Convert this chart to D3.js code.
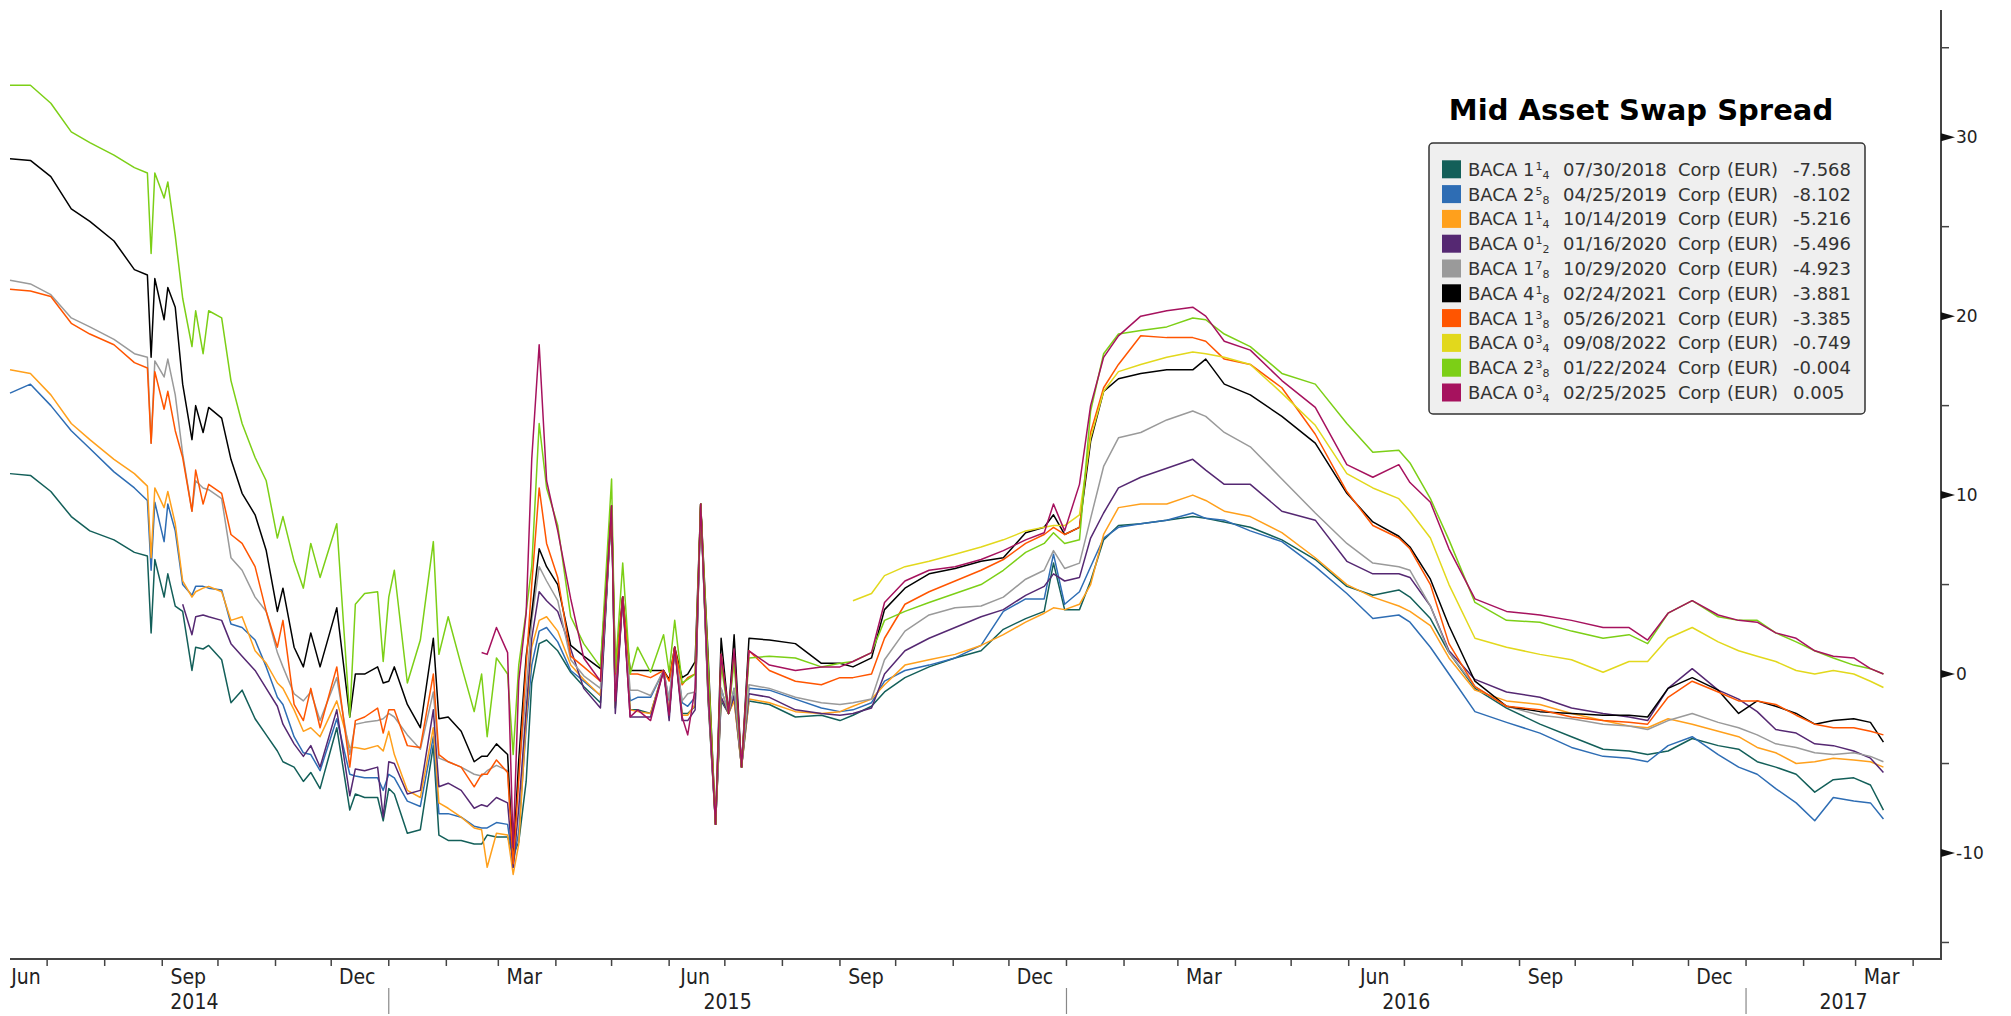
<!DOCTYPE html>
<meta charset="utf-8">
<style>
html, body {
  margin: 0;
  background: #fff;
}

.chart {
  display: block;
}

.chart .series {
  fill: none;
  stroke-width: 1.5;
  stroke-linejoin: round;
}

.chart .axis-line {
  stroke: #444;
  stroke-width: 2;
}

.chart .tick-line {
  stroke: #444;
  stroke-width: 1.5;
}

.chart .y-label {
  font-family: "DejaVu Sans", sans-serif;
  font-size: 17px;
  fill: #222;
}

.chart .month-label,
.chart .year-label {
  font-family: "Liberation Sans Narrow", "DejaVu Sans Condensed", sans-serif;
  font-size: 21px;
  fill: #222;
}

.chart text.chart-title {
  font-family: "DejaVu Sans", sans-serif;
  font-weight: bold;
  font-size: 29px;
  fill: #000;
}

.chart .legend text {
  font-family: "DejaVu Sans", sans-serif;
  font-size: 18px;
  fill: #333;
}
</style>
<body>

<svg class="chart js-chart" width="2011" height="1016"></svg>

<script src="https://d3js.org/d3.v7.min.js"></script>
<script type="text/javascript">
"use strict";

/* global d3 */

// observation dates shared by every bond
var dates = [
  "2014-06-11", "2014-06-22", "2014-07-03", "2014-07-14", "2014-07-24", "2014-08-06", "2014-08-17", "2014-08-24", "2014-08-26", "2014-08-28",
  "2014-09-02", "2014-09-04", "2014-09-08", "2014-09-12", "2014-09-17", "2014-09-19", "2014-09-23", "2014-09-26", "2014-10-03", "2014-10-08",
  "2014-10-14", "2014-10-21", "2014-10-27", "2014-11-02", "2014-11-05", "2014-11-11", "2014-11-16", "2014-11-20", "2014-11-25", "2014-12-04",
  "2014-12-11", "2014-12-14", "2014-12-19", "2014-12-26", "2014-12-29", "2015-01-01", "2015-01-04", "2015-01-11", "2015-01-18", "2015-01-25",
  "2015-01-28", "2015-02-02", "2015-02-09", "2015-02-16", "2015-02-20", "2015-02-23", "2015-02-28", "2015-03-06", "2015-03-09", "2015-03-12",
  "2015-03-16", "2015-03-19", "2015-03-23", "2015-03-27", "2015-04-02", "2015-04-09", "2015-04-16", "2015-04-25", "2015-05-01", "2015-05-03",
  "2015-05-07", "2015-05-11", "2015-05-15", "2015-05-22", "2015-05-29", "2015-06-01", "2015-06-04", "2015-06-08", "2015-06-11", "2015-06-15",
  "2015-06-18", "2015-06-22", "2015-06-26", "2015-06-29", "2015-07-03", "2015-07-06", "2015-07-10", "2015-07-14", "2015-07-25", "2015-08-08",
  "2015-08-22", "2015-09-01", "2015-09-08", "2015-09-18", "2015-09-25", "2015-10-06", "2015-10-19", "2015-11-02", "2015-11-16", "2015-11-28",
  "2015-12-10", "2015-12-20", "2015-12-25", "2015-12-31", "2016-01-08", "2016-01-14", "2016-01-21", "2016-01-29", "2016-02-10", "2016-02-24",
  "2016-03-09", "2016-03-16", "2016-03-26", "2016-04-09", "2016-04-26", "2016-05-14", "2016-05-31", "2016-06-14", "2016-06-28", "2016-07-04",
  "2016-07-15", "2016-07-25", "2016-08-08", "2016-08-25", "2016-09-12", "2016-09-29", "2016-10-16", "2016-10-30", "2016-11-09", "2016-11-20",
  "2016-12-03", "2016-12-17", "2016-12-28", "2017-01-07", "2017-01-17", "2017-01-28", "2017-02-07", "2017-02-17", "2017-02-28", "2017-03-09",
  "2017-03-16"
];

var baca2018 = [
  11.2, 11.1, 10.2, 8.8, 8.0, 7.5, 6.8, 6.6, 2.3, 6.4,
  4.3, 5.6, 3.8, 3.5, 0.2, 1.5, 1.4, 1.6, 0.8, -1.6,
  -0.9, -2.5, -3.4, -4.3, -4.9, -5.2, -6.0, -5.5, -6.4, -3.0,
  -7.6, -6.7, -6.9, -6.9, -8.2, -6.4, -6.7, -8.9, -8.7, -4.0,
  -9.0, -9.3, -9.3, -9.5, -9.5, -9.0, -9.1, -9.1, -10.1, -9.4,
  -6.0, -0.5, 1.7, 1.9, 1.3, 0.1, -0.7, -1.6, 9.4, -1.9,
  4.3, -2.0, -2.0, -2.2, 0.2, -2.3, 1.5, -2.2, -2.2, -1.8,
  9.5, -1.5, -8.4, -1.5, -2.2, -1.4, -5.2, -1.5, -1.7, -2.4,
  -2.3, -2.6, -2.3, -1.8, -1.0, -0.2, 0.4, 0.9, 1.3, 2.5,
  3.1, 3.5, 6.2, 3.6, 3.6, 5.2, 7.5, 8.3, 8.4, 8.6,
  8.8, 8.7, 8.5, 8.2, 7.5, 6.4, 4.9, 4.4, 4.7, 4.3,
  3.1, 1.2, -0.8, -1.9, -2.8, -3.5, -4.2, -4.3, -4.5, -4.3,
  -3.6, -4.0, -4.2, -4.9, -5.2, -5.6, -6.6, -5.9, -5.8, -6.2,
  -7.6
];

var baca2019a = [
  15.7, 16.2, 15.0, 13.6, 12.6, 11.3, 10.4, 9.7, 5.8, 9.6,
  7.4, 9.5, 8.0, 5.0, 4.4, 4.9, 4.9, 4.8, 4.7, 2.8,
  2.6, 1.9, 0.4, -1.3, -1.7, -3.5, -4.4, -4.5, -5.4, -2.5,
  -5.6, -5.7, -5.8, -5.8, -6.5, -5.6, -5.8, -7.1, -7.4, -3.5,
  -7.8, -7.8, -8.0, -8.5, -8.6, -8.6, -8.3, -8.4, -10.6, -8.8,
  -3.0, 0.5, 2.4, 2.6, 1.8, 0.2, -0.4, -1.2, 9.4, -1.5,
  4.3, -1.5, -1.3, -1.3, 0.2, -1.5, 1.5, -1.6, -1.8, -1.3,
  9.5, -0.9, -8.4, -0.8, -2.2, -0.8, -5.2, -0.8, -0.9, -1.4,
  -1.9, -2.1, -2.0, -1.6, -0.4, 0.2, 0.5, 0.9, 1.6, 3.5,
  4.2, 4.2, 6.7, 3.9, 4.6, 6.0, 7.6, 8.2, 8.4, 8.6,
  9.0, 8.7, 8.6, 8.0, 7.4, 6.0, 4.5, 3.1, 3.3, 2.9,
  1.5, 0.0, -2.1, -2.7, -3.3, -4.1, -4.6, -4.7, -4.9, -4.0,
  -3.5, -4.5, -5.2, -5.6, -6.4, -7.2, -8.2, -6.9, -7.1, -7.2,
  -8.1
];

var baca2019b = [
  17.0, 16.8, 15.6, 14.0, 13.1, 12.0, 11.2, 10.5, 6.5, 10.4,
  9.3, 10.2, 8.4, 5.2, 4.3, 4.6, 4.8, 4.9, 4.6, 3.0,
  3.2, 1.3, 0.6, -0.5, -0.8, -2.0, -3.2, -3.0, -3.5, -1.5,
  -4.1, -4.1, -4.2, -4.0, -4.3, -3.2, -4.5, -6.5, -6.9, -3.0,
  -7.2, -7.5, -8.0, -8.6, -8.7, -10.8, -8.9, -9.0, -11.2, -9.5,
  -2.5, 1.5, 3.0, 3.2, 2.4, 0.5, -0.3, -1.2, 9.4, -1.8,
  4.3, -2.0, -2.1, -2.2, 0.2, -2.2, 1.5, -2.3, -2.3, -1.7,
  9.5, -1.3, -8.4, -1.3, -2.2, -1.5, -5.2, -1.4, -1.6, -2.1,
  -2.2, -2.1, -1.8, -1.4, -0.6, 0.5, 0.8, 1.1, 1.6, 2.2,
  2.9, 3.4, 3.7, 3.6, 3.9, 5.0, 7.8, 9.3, 9.5, 9.5,
  10.0, 9.7, 9.1, 8.8, 7.9, 6.5, 5.0, 4.3, 3.8, 3.5,
  2.7, 0.9, -0.9, -1.5, -1.7, -2.2, -2.6, -2.9, -3.0, -2.5,
  -2.8, -3.2, -3.5, -4.1, -4.4, -5.0, -4.9, -4.7, -4.8, -4.9,
  -5.2
];

var baca2020a = [
  null, null, null, null, null, null, null, null, null, null,
  null, null, null, 3.9, 2.2, 3.2, 3.3, 3.2, 3.0, 1.7,
  1.0, 0.2, -0.8, -1.8, -2.8, -3.9, -4.6, -4.0, -5.2, -2.0,
  -6.8, -5.3, -5.4, -5.2, -8.0, -4.9, -5.0, -6.7, -6.5, -2.0,
  -6.3, -6.1, -6.5, -7.5, -7.3, -7.4, -6.9, -7.2, -10.8, -7.5,
  -2.0, 2.0, 4.6, 4.1, 3.5, 1.4, -0.8, -1.9, 9.4, -2.2,
  4.3, -2.4, -2.4, -2.4, 0.2, -2.6, 1.5, -2.6, -2.6, -2.0,
  9.5, -1.3, -8.4, -1.3, -2.2, -1.2, -5.2, -1.1, -1.3, -2.0,
  -2.2, -2.3, -2.2, -1.9, 0.0, 1.3, 2.0, 2.6, 3.2, 3.6,
  4.4, 4.9, 5.6, 5.2, 5.4, 7.6, 9.0, 10.4, 11.0, 11.5,
  12.0, 11.4, 10.6, 10.6, 9.1, 8.6, 6.3, 5.6, 5.6, 5.4,
  3.8, 1.3, -0.3, -1.0, -1.3, -1.9, -2.2, -2.4, -2.6, -0.8,
  0.3, -0.9, -1.4, -2.1, -3.1, -3.3, -3.9, -4.0, -4.3, -4.7,
  -5.5
];

var baca2020b = [
  22.0, 21.8, 21.2, 19.9, 19.4, 18.7, 17.9, 17.7, 12.9, 17.5,
  16.6, 17.6, 15.6, 12.3, 9.1, 10.8, 10.4, 10.3, 9.8, 6.5,
  5.8, 4.3, 3.5, 1.2, 0.4, -1.1, -1.5, -1.0, -2.6, -0.2,
  -4.5, -2.8, -2.7, -2.6, -2.5, -2.2, -2.4, -3.4, -4.2, -1.0,
  -4.7, -4.9, -5.2, -5.6, -5.7, -5.4, -5.1, -5.4, -10.4, -5.6,
  -1.0, 3.0, 6.0, 5.2, 4.1, 0.8, -0.1, -0.8, 9.4, -0.8,
  4.3, -0.9, -0.9, -1.2, 0.2, -1.4, 1.5, -1.5, -1.1, -1.0,
  9.5, -0.9, -8.4, -0.8, -2.2, -0.8, -5.2, -0.6, -0.8, -1.3,
  -1.6, -1.7, -1.6, -1.4, 0.8, 2.4, 3.3, 3.7, 3.8, 4.3,
  5.3, 5.8, 6.9, 5.9, 6.2, 8.7, 11.6, 13.2, 13.5, 14.2,
  14.7, 14.4, 13.5, 12.7, 10.9, 9.0, 7.3, 6.2, 6.0, 5.8,
  3.8, 1.2, -0.7, -1.8, -2.3, -2.5, -2.8, -2.9, -3.1, -2.6,
  -2.2, -2.7, -3.0, -3.4, -3.9, -4.1, -4.4, -4.5, -4.4, -4.6,
  -4.9
];

var baca2021a = [
  28.8, 28.7, 27.8, 26.0, 25.3, 24.2, 22.6, 22.3, 17.7, 22.1,
  19.8, 21.6, 20.5, 16.2, 13.1, 15.0, 13.5, 14.9, 14.3, 12.0,
  10.1, 8.9, 6.9, 3.5, 4.8, 1.5, 0.4, 2.3, 0.4, 3.7,
  -2.4, 0.0, 0.0, 0.4, -0.5, -0.4, 0.4, -1.7, -3.0, 2.0,
  -2.5, -2.4, -3.2, -4.9, -4.6, -4.6, -3.9, -4.5, -10.4, -4.8,
  1.0, 3.4, 7.0, 6.0, 5.0, 1.6, 1.0, 0.3, 9.4, 0.2,
  4.3, 0.2, 0.2, 0.2, 0.2, -0.3, 1.5, -0.2, 0.0, 0.7,
  9.5, 1.0, -8.4, 2.0, -2.2, 2.2, -5.2, 2.0, 1.9, 1.7,
  0.6, 0.6, 0.4, 0.9, 3.6, 4.8, 5.6, 5.9, 6.3, 6.5,
  7.9, 8.2, 8.9, 7.8, 8.2, 13.0, 15.8, 16.5, 16.8, 17.0,
  17.0, 17.6, 16.2, 15.6, 14.4, 12.9, 10.1, 8.5, 7.7, 7.1,
  5.3, 2.7, -0.4, -1.8, -2.1, -2.2, -2.3, -2.3, -2.4, -0.8,
  -0.2, -0.9, -2.2, -1.5, -1.8, -2.2, -2.8, -2.6, -2.5, -2.7,
  -3.8
];

var baca2021b = [
  21.5, 21.4, 21.1, 19.6, 19.0, 18.4, 17.4, 17.1, 12.9, 16.9,
  14.8, 15.8, 13.6, 12.1, 9.1, 11.4, 9.5, 10.6, 10.1, 7.8,
  7.3, 6.0, 3.5, 1.5, 3.0, -1.7, -2.6, -0.8, -3.0, 0.4,
  -5.2, -2.6, -2.4, -1.9, -3.3, -2.0, -2.0, -4.0, -4.1, 0.0,
  -4.5, -4.9, -5.2, -6.3, -5.6, -5.6, -4.8, -5.5, -10.6, -5.9,
  0.5, 5.0, 10.4, 7.3, 5.4, 1.0, 0.4, -0.4, 9.4, 0.0,
  4.3, 0.0, 0.0, -0.2, 0.2, -0.4, 1.5, -0.6, -0.2, 0.0,
  9.5, 0.4, -8.4, 1.1, -2.2, 1.1, -5.2, 1.3, 0.2, -0.4,
  -0.6, -0.2, -0.2, 0.0, 2.0, 3.9, 4.6, 5.2, 5.8, 6.4,
  7.3, 7.8, 8.2, 7.8, 8.2, 13.5, 16.0, 17.3, 18.9, 18.8,
  18.8, 18.6, 17.6, 17.3, 16.0, 13.4, 10.2, 8.3, 7.6, 7.0,
  5.0, 1.7, -0.7, -1.8, -2.0, -2.4, -2.6, -2.7, -2.8, -1.3,
  -0.4, -1.0, -1.5, -1.5, -1.7, -2.3, -2.8, -3.0, -3.0, -3.2,
  -3.4
];

var baca2022 = [
  null, null, null, null, null, null, null, null, null, null,
  null, null, null, null, null, null, null, null, null, null,
  null, null, null, null, null, null, null, null, null, null,
  null, null, null, null, null, null, null, null, null, null,
  null, null, null, null, null, null, null, null, null, null,
  null, null, null, null, null, null, null, null, null, null,
  null, null, null, null, null, null, null, null, null, null,
  null, null, null, null, null, null, null, null, null, null,
  null, null, 4.1, 4.5, 5.5, 6.0, 6.3, 6.7, 7.1, 7.5,
  8.0, 8.2, 8.3, 8.3, 8.9, 13.2, 15.8, 16.9, 17.3, 17.7,
  18.0, 17.9, 17.7, 17.3, 15.7, 13.9, 11.2, 10.4, 9.8, 9.1,
  7.6, 5.0, 2.0, 1.5, 1.1, 0.8, 0.1, 0.7, 0.7, 2.0,
  2.6, 1.8, 1.3, 1.0, 0.7, 0.2, 0.0, 0.2, 0.0, -0.4,
  -0.75
];

var baca2024 = [
  32.9, 32.9, 31.9, 30.3, 29.7, 29.0, 28.3, 28.0, 23.5, 28.0,
  26.6, 27.5, 24.5, 21.0, 18.3, 20.3, 17.9, 20.3, 19.9, 16.4,
  14.0, 12.1, 10.8, 7.6, 8.8, 6.3, 4.8, 7.3, 5.4, 8.4,
  -2.4, 3.9, 4.5, 4.6, 0.7, 4.3, 5.8, -0.5, 1.9, 7.4,
  1.1, 3.2, 0.5, -2.1, 0.0, -3.5, 0.9, 0.0, -4.5, 0.5,
  3.5, 6.0, 14.0, 10.4, 8.3, 3.2, 1.7, 0.4, 10.9, 0.1,
  6.2, 0.0, 1.5, 0.1, 2.2, 0.1, 3.0, -0.5, -0.3, 0.0,
  9.5, 0.5, -8.4, 0.5, -2.2, 0.7, -5.2, 0.9, 1.0, 0.9,
  0.4, 0.6, 0.7, 1.2, 3.0, 3.5, 4.0, 4.5, 5.0, 5.8,
  6.8, 7.3, 7.9, 7.3, 7.5, 14.7, 17.9, 19.0, 19.2, 19.4,
  19.9, 19.8, 19.0, 18.3, 16.8, 16.2, 14.0, 12.4, 12.5, 11.8,
  9.8, 7.5, 4.0, 3.0, 2.9, 2.4, 2.0, 2.2, 1.7, 3.4,
  4.1, 3.2, 3.0, 3.0, 2.3, 1.8, 1.3, 0.9, 0.5, 0.3,
  0.0
];

var baca2025 = [
  null, null, null, null, null, null, null, null, null, null,
  null, null, null, null, null, null, null, null, null, null,
  null, null, null, null, null, null, null, null, null, null,
  null, null, null, null, null, null, null, null, null, null,
  null, null, null, null, 1.2, 1.1, 2.6, 1.2, -9.7, -0.4,
  3.4, 12.0, 18.4, 10.8, 8.0, 4.2, 0.9, -0.4, 9.4, -1.5,
  4.3, -2.4, -2.0, -2.6, 0.2, -2.3, 1.5, -2.4, -3.4, -0.8,
  9.5, -0.8, -8.4, 1.1, -2.2, 1.4, -5.2, 1.3, 0.5, 0.2,
  0.4, 0.4, 0.7, 1.2, 4.0, 5.2, 5.8, 6.0, 6.4, 6.9,
  7.5, 7.9, 9.5, 8.0, 10.6, 15.0, 17.7, 18.9, 20.0, 20.3,
  20.5, 20.0, 18.6, 18.1, 16.4, 14.9, 11.7, 11.0, 11.7, 10.7,
  9.6, 7.0, 4.2, 3.5, 3.3, 3.0, 2.6, 2.6, 1.9, 3.4,
  4.1, 3.3, 3.0, 2.9, 2.3, 2.0, 1.3, 1.0, 0.9, 0.3,
  0.0
];

// legend rows, in drawing order
var couponWhole = ["1", "2", "1", "0", "1", "4", "1", "0", "2", "0"];
var couponNum   = ["1", "5", "1", "1", "7", "1", "3", "3", "3", "3"];
var couponDen   = ["4", "8", "4", "2", "8", "8", "8", "4", "8", "4"];
var maturities  = ["07/30/2018", "04/25/2019", "10/14/2019", "01/16/2020", "10/29/2020",
                   "02/24/2021", "05/26/2021", "09/08/2022", "01/22/2024", "02/25/2025"];
var lastValues  = ["-7.568", "-8.102", "-5.216", "-5.496", "-4.923",
                   "-3.881", "-3.385", "-0.749", "-0.004", "0.005"];
var seriesValues = [baca2018, baca2019a, baca2019b, baca2020a, baca2020b,
                    baca2021a, baca2021b, baca2022, baca2024, baca2025];
var colors = ["#135f59", "#2e6db4", "#ffa01c", "#552872", "#9a9a9a",
              "#000000", "#ff5500", "#e2d81c", "#7ccf16", "#a6125e"];

var yTicks = [-10, 0, 10, 20, 30];
var yMinorTicks = [-15, -5, 5, 15, 25, 35];

var parseDate = d3.timeParse("%Y-%m-%d");

var chart = {
  plot: { left: 10, right: 1941, top: 10, bottom: 959 },

  init: function () {
    this.el = d3.select(".js-chart");

    this.x = d3.scaleTime()
      .domain([new Date(2014, 5, 11), new Date(2017, 3, 16)])
      .range([this.plot.left, this.plot.right]);

    this.y = d3.scaleLinear()
      .domain([-10, 30])
      .range([853, 137.2]);

    this.drawAxes();
    this.drawSeries();
    this.drawLegend();
  },

  drawSeries: function () {
    var x = this.x, y = this.y;
    var line = d3.line()
      .defined(function (d) { return d.v !== null; })
      .x(function (d) { return x(d.date); })
      .y(function (d) { return y(d.v); });

    var data = seriesValues.map(function (vals, i) {
      return {
        color: colors[i],
        points: vals.map(function (v, j) { return { date: parseDate(dates[j]), v: v }; })
      };
    });

    this.el.append("g")
      .selectAll("path").data(data)
      .enter().append("path")
        .attr("class", "series")
        .attr("stroke", function (d) { return d.color; })
        .attr("d", function (d) { return line(d.points); });
  },

  drawAxes: function () {
    var x = this.x, y = this.y, p = this.plot;
    var g = this.el.append("g");

    // x axis
    g.append("line").attr("class", "axis-line")
      .attr("x1", p.left).attr("x2", p.right + 1)
      .attr("y1", p.bottom).attr("y2", p.bottom);

    var months = d3.timeMonth.range(d3.timeMonth.ceil(x.domain()[0]), x.domain()[1]);
    g.selectAll(".x-tick").data(months)
      .enter().append("line")
        .attr("class", "tick-line")
        .attr("x1", function (d) { return x(d); })
        .attr("x2", function (d) { return x(d); })
        .attr("y1", p.bottom)
        .attr("y2", p.bottom + 7);

    var labelMonths = d3.timeMonth.range(d3.timeMonth.floor(x.domain()[0]), x.domain()[1])
      .filter(function (d) { return d.getMonth() % 3 === 2; });
    g.selectAll(".month-label").data(labelMonths)
      .enter().append("text")
        .attr("class", "month-label")
        .attr("text-anchor", "middle")
        .attr("x", function (d) {
          return Math.max(26, x(new Date(d.getFullYear(), d.getMonth(), 15)));
        })
        .attr("y", 984)
        .text(d3.timeFormat("%b"));

    var years = [2014, 2015, 2016, 2017];
    g.selectAll(".year-label").data(years)
      .enter().append("text")
        .attr("class", "year-label")
        .attr("text-anchor", "middle")
        .attr("x", function (yr) {
          var a = Math.max(0, x(new Date(yr, 0, 1)));
          var b = Math.min(p.right, x(new Date(yr + 1, 0, 1)));
          return (a + b) / 2;
        })
        .attr("y", 1009)
        .text(String);

    g.selectAll(".year-sep").data(years.slice(1))
      .enter().append("line")
        .attr("stroke", "#888")
        .attr("stroke-width", 1.2)
        .attr("x1", function (yr) { return x(new Date(yr, 0, 1)); })
        .attr("x2", function (yr) { return x(new Date(yr, 0, 1)); })
        .attr("y1", 988)
        .attr("y2", 1014);

    // y axis on the right
    g.append("line").attr("class", "axis-line")
      .attr("x1", p.right).attr("x2", p.right)
      .attr("y1", p.top).attr("y2", p.bottom);

    g.selectAll(".y-minor").data(yMinorTicks)
      .enter().append("line")
        .attr("class", "tick-line")
        .attr("x1", p.right).attr("x2", p.right + 8)
        .attr("y1", function (d) { return y(d); })
        .attr("y2", function (d) { return y(d); });

    g.selectAll(".y-major").data(yTicks)
      .enter().append("path")
        .attr("fill", "#111")
        .attr("d", function (d) {
          var yy = y(d);
          return "M" + p.right + "," + (yy - 4) + "L" + (p.right + 14) + "," + yy +
                 "L" + p.right + "," + (yy + 4) + "Z";
        });

    g.selectAll(".y-label").data(yTicks)
      .enter().append("text")
        .attr("class", "y-label")
        .attr("x", p.right + 15)
        .attr("y", function (d) { return y(d); })
        .attr("dy", "0.35em")
        .text(function (d) { return d < 0 ? "-" + Math.abs(d) : d; });
  },

  drawLegend: function () {
    this.el.append("text")
      .attr("class", "chart-title")
      .attr("x", 1641)
      .attr("y", 120)
      .attr("text-anchor", "middle")
      .text("Mid Asset Swap Spread");

    var g = this.el.append("g").attr("class", "legend");

    g.append("rect")
      .attr("x", 1429).attr("y", 143)
      .attr("width", 436).attr("height", 271)
      .attr("rx", 4)
      .attr("fill", "#efefef")
      .attr("stroke", "#333")
      .attr("stroke-width", 1.5);

    var rows = g.selectAll(".row").data(maturities)
      .enter().append("g")
        .attr("class", "row")
        .attr("transform", function (d, i) { return "translate(0," + (169.3 + i * 24.8) + ")"; });

    rows.append("rect")
      .attr("x", 1442).attr("y", -9)
      .attr("width", 19).attr("height", 18)
      .attr("fill", function (d, i) { return colors[i]; });

    var label = rows.append("text").attr("y", 6.5);
    label.append("tspan").attr("x", 1468).text(function (d, i) { return "BACA " + couponWhole[i]; });
    label.append("tspan")
      .attr("dy", -6).attr("dx", 1)
      .style("font-size", "11px")
      .text(function (d, i) { return couponNum[i]; });
    label.append("tspan")
      .attr("dy", 9).attr("dx", 0)
      .style("font-size", "11px")
      .text(function (d, i) { return couponDen[i]; });
    label.append("tspan").attr("x", 1563).attr("dy", -3).text(function (d) { return d; });
    label.append("tspan").attr("x", 1678).text("Corp");
    label.append("tspan").attr("x", 1727).text("(EUR)");
    label.append("tspan").attr("x", 1793).text(function (d, i) { return lastValues[i]; });
  }
};

chart.init();

</script>
</body>
